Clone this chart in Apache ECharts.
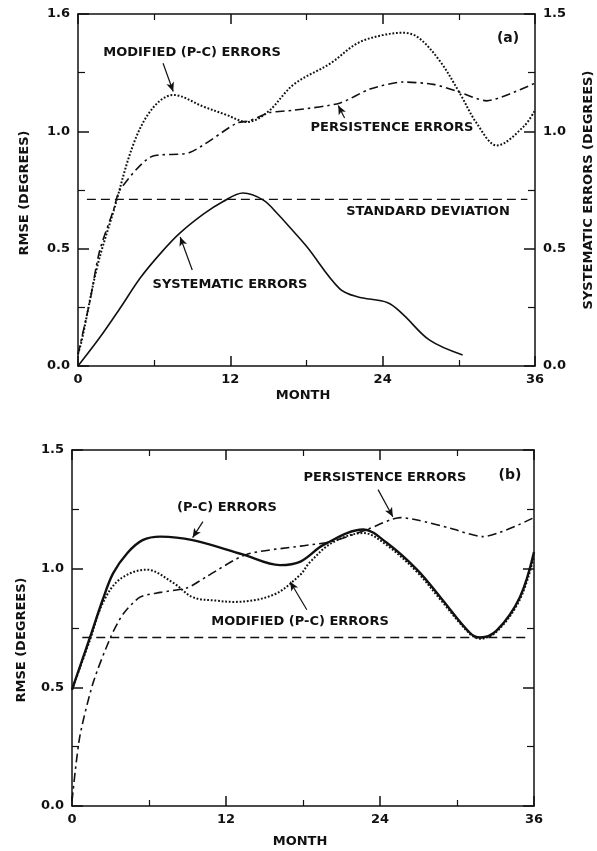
<!DOCTYPE html>
<html>
<head>
<meta charset="utf-8">
<title>RMSE vs month</title>
<script src="https://cdn.jsdelivr.net/npm/echarts@6/dist/echarts.min.js"></script>
<style>
html, body { margin: 0; padding: 0; background: #fff; }
#chart { width: 597px; height: 851px; }
</style>
</head>
<body>
<div id="chart"></div>
<script>
// ---- panel (a) ----
var modA_x = [0, 0.3, 1.5, 2.8, 4.4, 5.9, 7.5, 9.9, 11.7, 13.3, 14.9, 17, 19.9, 22, 24, 25.6, 26.8, 28.5, 30.1, 31.4, 33, 35.1, 36];
var modA_y = [0.05, 0.11, 0.42, 0.66, 0.95, 1.10, 1.155, 1.105, 1.07, 1.04, 1.08, 1.20, 1.29, 1.375, 1.41, 1.42, 1.40, 1.30, 1.16, 1.035, 0.94, 1.02, 1.09];
var persA_x = [0, 0.95, 1.7, 2.8, 3.3, 5.7, 8.8, 12.5, 13.5, 15.1, 17, 20.6, 23, 25.6, 28, 29.9, 32.2, 33.8, 36];
var persA_y = [0.05, 0.28, 0.49, 0.665, 0.75, 0.89, 0.91, 1.035, 1.045, 1.08, 1.09, 1.12, 1.18, 1.21, 1.20, 1.17, 1.13, 1.155, 1.205];
var sysA_x = [0, 1.7, 3.3, 4.9, 6.5, 8, 9.9, 11.4, 13, 14.6, 15.7, 16.7, 18, 20.6, 22, 24.4, 25.6, 27.7, 30.3];
var sysA_y = [0, 0.12, 0.245, 0.375, 0.48, 0.565, 0.648, 0.70, 0.737, 0.707, 0.65, 0.59, 0.51, 0.33, 0.295, 0.27, 0.22, 0.11, 0.047];
var stdA_x = [0.7, 35.4];
var stdA_y = [0.71, 0.71];

// ---- panel (b) ----
var pcB_x = [0, 1.4, 2.4, 3.2, 4.3, 5.5, 6.9, 9.4, 13.3, 16.2, 17.8, 19.6, 22.7, 24.5, 26.9, 28.7, 31, 31.8, 33.1, 34.9, 36];
var pcB_y = [0.49, 0.71, 0.87, 0.98, 1.065, 1.12, 1.135, 1.12, 1.06, 1.015, 1.03, 1.10, 1.165, 1.11, 0.995, 0.88, 0.73, 0.71, 0.74, 0.88, 1.07];
var modB_x = [0, 1.4, 2.4, 3.7, 5.8, 7.9, 9.4, 11.3, 12.6, 15.7, 17.8, 18.5, 20.3, 22.7, 24.5, 26.9, 28.7, 31, 31.8, 33.1, 34.9, 36];
var modB_y = [0.49, 0.70, 0.855, 0.954, 0.996, 0.94, 0.88, 0.865, 0.86, 0.89, 0.975, 1.025, 1.11, 1.15, 1.10, 0.985, 0.87, 0.725, 0.705, 0.735, 0.87, 1.05];
var persB_x = [0, 0.6, 1.65, 3, 4, 5.3, 6.9, 9, 10.5, 13.6, 17.8, 20.3, 23, 25.6, 26.9, 29.5, 32, 36];
var persB_y = [0.02, 0.29, 0.52, 0.71, 0.81, 0.88, 0.90, 0.92, 0.967, 1.06, 1.095, 1.115, 1.165, 1.215, 1.205, 1.17, 1.135, 1.215];
var stdB_x = [0.8, 35.5];
var stdB_y = [0.71, 0.71];

// tick labels
var monthTicks = ['0', '12', '24', '36'];
var leftTicksA = ['0.0', '0.5', '1.0', '1.6'];
var rightTicksA = ['0.0', '0.5', '1.0', '1.5'];
var leftTicksB = ['0.0', '0.5', '1.0', '1.5'];

function pairs(xs, ys) {
  return xs.map(function (x, i) { return [x, ys[i]]; });
}

var FONT = '"DejaVu Sans", "Liberation Sans", sans-serif';
var INK = '#111';

function xAx(grid, pos, labels) {
  return {
    type: 'value', gridIndex: grid, position: pos, min: 0, max: 36, interval: 12,
    axisLine: { show: true, onZero: false, lineStyle: { color: INK, width: 1.5 } },
    axisTick: { show: true, inside: true, length: 10, lineStyle: { color: INK, width: 1.5 } },
    minorTick: { show: true, splitNumber: 2, length: 6, lineStyle: { color: INK, width: 1.2 } },
    splitLine: { show: false },
    axisLabel: {
      show: !!labels, margin: 7, color: INK, fontFamily: FONT, fontWeight: 'bold', fontSize: 13,
      formatter: function (v) { return labels ? labels[Math.round(v / 12)] : ''; }
    }
  };
}

function yAx(grid, pos, labels) {
  return {
    type: 'value', gridIndex: grid, position: pos, min: 0, max: 1.5, interval: 0.5,
    axisLine: { show: true, onZero: false, lineStyle: { color: INK, width: 1.5 } },
    axisTick: { show: true, inside: true, length: 11, lineStyle: { color: INK, width: 1.5 } },
    minorTick: { show: true, splitNumber: 2, length: 7, lineStyle: { color: INK, width: 1.2 } },
    splitLine: { show: false },
    axisLabel: {
      show: !!labels, margin: 8, color: INK, fontFamily: FONT, fontWeight: 'bold', fontSize: 13,
      formatter: function (v) { return labels ? labels[Math.round(v / 0.5)] : ''; }
    }
  };
}

function arrow(from, to) {
  return [{ coord: from }, { coord: to }];
}

function arrows(list) {
  return {
    silent: true, symbol: ['none', 'arrow'], symbolSize: [6, 9],
    lineStyle: { color: INK, width: 1.2, type: 'solid' },
    label: { show: false }, emphasis: { disabled: true },
    data: list
  };
}

function line(name, xi, yi, xs, ys, dash, width, extra) {
  var s = {
    name: name, type: 'line', xAxisIndex: xi, yAxisIndex: yi,
    data: pairs(xs, ys), showSymbol: false, smooth: 0.35,
    lineStyle: { color: INK, width: width, type: dash, cap: 'butt' }
  };
  for (var k in extra) s[k] = extra[k];
  return s;
}

var DOT = [1.8, 1.8];
var DASHDOT = [9, 4, 2.5, 4];
var DASH = [9, 5];

function txt(x, y, text, rot, size) {
  return {
    type: 'text', x: x, y: y, rotation: rot || 0, silent: true,
    style: {
      text: text, align: 'center', verticalAlign: 'middle', fill: INK,
      font: 'bold ' + (size || 13) + 'px ' + FONT
    }
  };
}

var myChart = echarts.init(document.getElementById('chart'));
var option = {
  animation: false,
  backgroundColor: '#fff',
  grid: [
    { left: 78, top: 14, width: 457, height: 352 },
    { left: 72, top: 450, width: 462, height: 356 }
  ],
  xAxis: [
    xAx(0, 'bottom', monthTicks),
    xAx(0, 'top', null),
    xAx(1, 'bottom', monthTicks),
    xAx(1, 'top', null)
  ],
  yAxis: [
    yAx(0, 'left', leftTicksA),
    yAx(0, 'right', rightTicksA),
    yAx(1, 'left', leftTicksB),
    yAx(1, 'right', null)
  ],
  series: [
    line('Modified (P-C) errors (a)', 0, 0, modA_x, modA_y, DOT, 2, {
      markLine: arrows([arrow([6.7, 1.29], [7.5, 1.17])])
    }),
    line('Persistence errors (a)', 0, 0, persA_x, persA_y, DASHDOT, 1.6, {
      smooth: 0.25,
      markLine: arrows([arrow([21.0, 1.057], [20.5, 1.11])])
    }),
    line('Systematic errors (a)', 0, 1, sysA_x, sysA_y, 'solid', 1.6, {
      markLine: arrows([arrow([9.0, 0.409], [8.05, 0.55])])
    }),
    line('Standard deviation (a)', 0, 0, stdA_x, stdA_y, DASH, 1.4, { smooth: false }),

    line('(P-C) errors (b)', 2, 2, pcB_x, pcB_y, 'solid', 2.4, {
      markLine: arrows([arrow([10.2, 1.198], [9.4, 1.131])])
    }),
    line('Modified (P-C) errors (b)', 2, 2, modB_x, modB_y, DOT, 2, {
      markLine: arrows([arrow([18.3, 0.827], [17.0, 0.945])])
    }),
    line('Persistence errors (b)', 2, 2, persB_x, persB_y, DASHDOT, 1.6, {
      smooth: 0.25,
      markLine: arrows([arrow([23.85, 1.333], [25.0, 1.219])])
    }),
    line('Standard deviation (b)', 2, 2, stdB_x, stdB_y, DASH, 1.4, { smooth: false })
  ],
  graphic: [
    // panel (a)
    txt(192, 53, 'MODIFIED (P-C) ERRORS'),
    txt(392, 128, 'PERSISTENCE ERRORS'),
    txt(428, 212, 'STANDARD DEVIATION'),
    txt(230, 285, 'SYSTEMATIC ERRORS'),
    txt(508, 38, '(a)', 0, 14),
    txt(25, 193, 'RMSE (DEGREES)', Math.PI / 2),
    txt(589, 190, 'SYSTEMATIC ERRORS (DEGREES)', Math.PI / 2),
    txt(303, 396, 'MONTH'),
    // panel (b)
    txt(227, 508, '(P-C) ERRORS'),
    txt(385, 478, 'PERSISTENCE ERRORS'),
    txt(300, 622, 'MODIFIED (P-C) ERRORS'),
    txt(510, 475, '(b)', 0, 14),
    txt(22, 640, 'RMSE (DEGREES)', Math.PI / 2),
    txt(300, 842, 'MONTH')
  ]
};
myChart.setOption(option);
window.onresize = myChart.resize;
</script>
</body>
</html>
